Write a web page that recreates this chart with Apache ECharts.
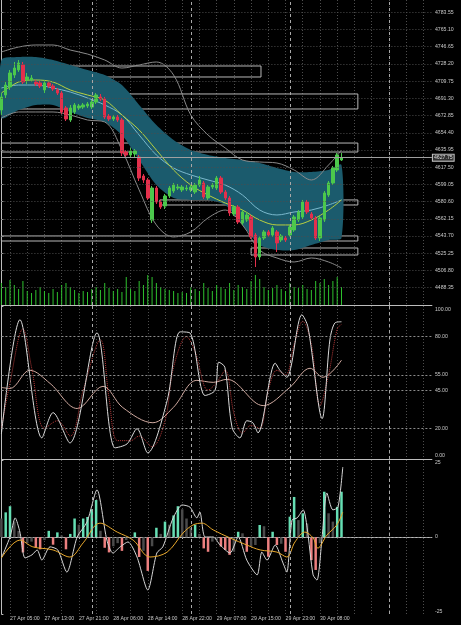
<!DOCTYPE html>
<html><head><meta charset="utf-8">
<script src="https://cdn.jsdelivr.net/npm/echarts@6/dist/echarts.min.js"></script>
<style>html,body{margin:0;padding:0;background:#000;}#c{width:461px;height:625px;}</style>
</head><body><div id="c"></div>
<script>
// ---------- data ----------
const priceTicks = [4783.55,4765.10,4746.65,4728.20,4709.75,4691.30,4672.85,4654.40,4635.95,4617.50,4599.05,4580.60,4562.15,4543.70,4525.25,4506.80,4488.35];
const stochTicks = [100,80,55,45,20,0];
const stochLevels = [80,55,45,20];
const macdTicks = [25,0,-25];
const timeLabels = ['27 Apr 05:00','27 Apr 13:00','27 Apr 21:00','28 Apr 06:00','28 Apr 14:00','28 Apr 22:00','29 Apr 07:00','29 Apr 15:00','29 Apr 23:00','30 Apr 08:00'];
const timeTickBars = [2,10,18,26,34,42,50,58,66,74];
const daySeparators = [21,44,67,90];
const lastPrice = 4627.75;
// [open, close, low, high]
const candles = [
[4678.8,4692.8,4673.5,4697.0],[4694.9,4705.6,4691.7,4708.8],[4703.5,4718.5,4700.3,4721.7],[4716.3,4723.8,4713.1,4730.3],
[4721.7,4729.2,4719.6,4732.4],[4727.1,4708.8,4706.7,4730.3],[4711.0,4714.2,4706.7,4718.5],[4711.0,4713.1,4708.8,4716.3],
[4708.8,4706.7,4704.5,4711.0],[4707.8,4704.5,4702.4,4709.9],[4700.3,4707.8,4697.0,4711.0],[4707.8,4704.5,4702.4,4708.8],
[4704.5,4701.3,4699.2,4706.7],[4700.3,4697.0,4694.9,4702.4],[4697.0,4676.7,4674.5,4699.2],[4681.0,4669.2,4667.0,4683.1],
[4668.1,4681.0,4666.0,4684.2],[4676.7,4684.2,4674.5,4686.3],[4681.0,4683.1,4678.8,4685.3],[4682.0,4684.2,4679.9,4686.3],
[4683.1,4685.3,4681.0,4687.4],[4682.0,4687.4,4679.9,4689.5],[4687.4,4694.9,4685.3,4697.0],[4692.8,4690.6,4688.5,4696.0],
[4690.6,4671.3,4669.2,4692.8],[4672.4,4669.2,4667.0,4674.5],[4669.2,4671.3,4667.0,4673.5],[4671.3,4668.1,4666.0,4673.5],
[4668.1,4632.7,4629.5,4670.3],[4633.8,4630.6,4627.4,4635.9],[4630.6,4634.9,4627.4,4638.1],[4631.7,4634.9,4628.4,4637.0],
[4628.4,4605.9,4602.7,4630.6],[4608.1,4603.8,4600.6,4610.2],[4603.8,4584.5,4582.4,4605.9],[4560.9,4595.2,4557.7,4597.4],
[4595.2,4580.2,4578.1,4597.4],[4580.2,4574.8,4572.7,4582.4],[4575.9,4586.6,4572.7,4588.8],[4586.6,4595.2,4584.5,4597.4],
[4592.0,4598.4,4589.9,4600.6],[4595.2,4596.3,4593.1,4599.5],[4593.1,4596.3,4590.9,4598.4],[4594.1,4595.2,4592.0,4598.4],
[4593.1,4596.3,4590.9,4598.4],[4590.9,4598.4,4588.8,4600.6],[4598.4,4603.8,4596.3,4608.1],[4600.6,4585.6,4583.4,4602.7],
[4584.5,4596.3,4582.4,4598.4],[4596.3,4598.4,4594.1,4600.6],[4595.2,4605.9,4593.1,4608.1],[4605.9,4590.9,4588.8,4608.1],
[4590.9,4584.5,4582.4,4593.1],[4584.5,4568.4,4565.2,4586.6],[4567.3,4574.8,4565.2,4577.0],[4574.8,4558.8,4556.6,4577.0],
[4557.7,4569.5,4555.6,4571.6],[4560.9,4566.3,4558.8,4569.5],[4564.1,4542.7,4540.6,4566.3],[4544.8,4521.3,4510.5,4547.0],
[4521.3,4541.6,4518.0,4543.8],[4541.6,4548.1,4539.5,4550.2],[4548.1,4544.8,4542.7,4550.2],[4544.8,4552.3,4542.7,4554.5],
[4548.1,4536.3,4526.6,4550.2],[4539.5,4543.8,4537.3,4545.9],[4541.6,4539.5,4537.3,4543.8],[4544.8,4553.4,4542.7,4555.6],
[4550.2,4564.1,4548.1,4566.3],[4560.9,4569.5,4558.8,4571.6],[4564.1,4580.2,4562.0,4582.4],[4580.2,4569.5,4567.3,4582.4],
[4567.3,4563.1,4560.9,4569.5],[4563.1,4541.6,4539.5,4565.2],[4541.6,4563.1,4538.4,4565.2],[4560.9,4589.9,4558.8,4592.0],
[4587.7,4600.6,4585.6,4602.7],[4600.6,4616.7,4598.4,4618.8],[4614.5,4630.6,4612.4,4632.7],[4625.2,4627.75,4624.2,4632.7]
];
const volumes = [2200,1800,2500,2000,1600,2400,1400,1200,1500,1800,1400,1200,1600,1300,2000,2200,1800,1500,1200,1400,
1300,1600,1800,1500,2200,1700,1400,1600,1300,2800,1600,1400,2400,2000,3000,2800,2200,1800,1600,1500,
1400,1200,1300,1200,1800,1600,1400,2200,1700,1400,2000,1800,1600,2200,1500,2000,1800,1600,2400,3000,
2600,1800,1500,1700,2000,1600,1400,2200,1800,1700,2000,1600,1500,2400,2200,2600,2000,2400,2800,1800];
// [bar, price]
const bandUpper = [[0,4732.4],[4,4735.6],[8,4735.6],[12,4732.4],[16,4727.1],[20,4721.7],[24,4716.3],[28,4705.6],[32,4684.2],[36,4662.7],[40,4646.6],[44,4635.9],[48,4630.6],[52,4627.4],[56,4625.2],[60,4622.0],[64,4616.7],[68,4612.4],[72,4612.4],[76,4614.5],[79,4619.9]];
const bandLower = [[0,4670.3],[4,4678.8],[8,4684.2],[12,4684.2],[16,4676.7],[20,4670.3],[24,4666.0],[28,4652.0],[32,4625.2],[36,4598.4],[40,4584.5],[44,4582.4],[48,4582.4],[52,4577.0],[56,4555.6],[60,4534.1],[64,4528.7],[68,4528.7],[72,4534.1],[76,4539.5],[79,4541.6]];
const maYellow = [[0,4697.0],[4,4708.8],[8,4711.0],[12,4708.8],[16,4700.3],[20,4694.9],[24,4689.5],[28,4673.5],[32,4657.4],[36,4635.9],[40,4614.5],[44,4598.4],[48,4587.7],[52,4579.1],[56,4571.6],[60,4560.9],[64,4555.6],[68,4555.6],[72,4560.9],[76,4571.6],[79,4582.4]];
const maBlue = [[0,4702.4],[4,4705.6],[8,4705.6],[12,4702.4],[16,4698.1],[20,4691.7],[24,4684.2],[28,4673.5],[32,4652.0],[36,4630.6],[40,4616.7],[44,4609.2],[48,4603.8],[52,4598.4],[56,4587.7],[60,4571.6],[64,4566.3],[68,4569.5],[72,4571.6],[76,4577.0],[79,4582.4]];
const envUpper = [[0,4741.0],[4,4746.3],[8,4748.5],[12,4748.5],[16,4743.1],[20,4738.8],[24,4732.4],[28,4723.8],[32,4727.1],[36,4730.3],[40,4716.3],[44,4673.5],[48,4652.0],[52,4638.1],[56,4625.2],[60,4623.1],[64,4622.0],[68,4614.5],[72,4603.8],[76,4619.9],[79,4635.9]];
const envLower = [[0,4670.3],[4,4676.7],[8,4676.7],[12,4676.7],[16,4673.5],[20,4668.1],[24,4666.0],[28,4635.9],[32,4593.1],[36,4555.6],[40,4542.7],[44,4548.1],[48,4563.1],[52,4571.6],[56,4555.6],[60,4528.7],[64,4520.2],[68,4515.9],[72,4520.2],[76,4515.9],[79,4509.5]];
// [startBar, endBar, topPrice, bottomPrice]
const zones = [[-0.4,60.3,4726.0,4714.2],[-0.4,82.8,4696.0,4679.9],[-0.4,82.8,4643.4,4633.8],[36.8,82.8,4582.4,4577.0],[-0.4,82.8,4543.8,4538.4],[58,82.8,4530.9,4523.4]];
const stochMain = [[0,16.5],[4.3,91],[9.4,13.8],[12,30.3],[15.9,10.5],[22.2,82.4],[26.4,7.3],[29.2,9.9],[31.5,19.8],[34,4],[38.5,38.2],[41.5,83.1],[43.8,82.4],[47.3,41.5],[49.6,44.8],[50.5,63.3],[51.9,60],[53.6,20.4],[55.4,13.8],[57,25],[58.4,23.7],[59.6,17.1],[63.6,62.6],[64.7,58],[66.3,53.4],[69.8,94.3],[71.2,86.4],[74.5,26.4],[76.3,77.8],[77.5,89],[79,89.7]];
const stochSignal = [[0,20],[2,50],[5,85],[7,60],[10,20],[13,25],[16,15],[19,45],[23,78],[25,40],[27,12],[30,12],[32,15],[35,8],[38,25],[40,60],[43,80],[45,70],[48,45],[50,50],[52,58],[54,30],[56,17],[58,22],[60,20],[62,45],[64,58],[66,55],[68,75],[70,90],[72,75],[74,35],[76,55],[78,85],[79,88]];
const stochSlow = [[0,46.8],[2,46.1],[6.6,58],[11.3,49.4],[17.6,33],[23.6,47.5],[28.2,33.6],[35.2,23.7],[39.9,33.6],[45.4,51.4],[49.2,50.1],[52.4,52.1],[60.8,34.9],[67,46.8],[71.7,59.3],[74.7,53.4],[79,64.6]];
const macdHist = [6,8,10,5,2,-5,-2,-1.5,-3.5,-4,-1,2,-2.5,1.5,0.5,-4,1,6,4,6,6.5,9,12,2,-3.5,-5,-3,-2,-4.5,-1,-0.5,1.5,-6.5,-4.5,-11,-3,3,1,5,4,7,10,9,6,3,4,1,-3.7,-4.8,-1.5,-1,-3.1,-4.2,-5.8,-4.8,1.7,1.2,-4.8,-3.1,-2.6,3.9,3.5,-6.4,1.7,-2.6,-2.2,-4.8,6.6,13,5.5,7.7,4.4,-7.5,-10.7,-2,14.7,7.7,5,9.8,14.7];
const macdLine = [[0,-6.8],[2,0],[3.2,6.2],[4.3,1.6],[5.5,-6.8],[7.1,-5.8],[8.3,-4.2],[9.4,-7.5],[11.3,-3.2],[13.1,-4.2],[15.2,-11.4],[17.6,0],[19.9,4.9],[22.2,15.3],[24.5,-1],[25.9,-5.2],[27.6,-3.2],[29.4,-1.6],[31.5,-6.5],[34,-17.2],[36.1,-5.2],[37.5,-3.2],[39.9,6.2],[42,10.4],[43.8,9.7],[45.4,6.2],[46.1,8.1],[47.3,0],[49.2,0],[50.8,-2.6],[53.1,-5.2],[55,0],[57,-7.5],[59.4,-12.3],[60.5,-4.9],[61.7,-7.5],[63.6,-2.6],[65.4,-8.4],[66.3,-11.4],[67.5,5.5],[68.7,6.2],[70.1,8.8],[71,3.2],[72.4,-12.3],[73.3,-14],[74.5,0],[75.6,14.3],[77,8.8],[78.2,9.7],[79.3,22.7]];
const macdSignal = [[0,-6.8],[4.3,-1],[7.3,-3.2],[12,-4.2],[15.9,-6.5],[19,-1.9],[22.9,4.5],[26.9,1.6],[30.6,-1],[34.5,-6.5],[38.5,-4.9],[42.2,1.3],[44.5,3.9],[46.6,4.5],[49.2,2.3],[53.1,-0.3],[57,-2.6],[60.1,-4.2],[64,-4.9],[66.3,-6.5],[68.2,-1.6],[70.5,1.6],[72.4,-0.3],[73.5,-3.6],[75.6,0.6],[77.9,3.9],[79.3,8.1]];

// ---------- chart ----------
const N = 101;
const cats = Array.from({length: N}, (_, i) => String(i));
const tickAt = {};
timeTickBars.forEach((b, i) => { tickAt[b] = timeLabels[i]; });
const FONT = 'Liberation Sans';
const TXT = '#c8c8c8';
const AX = '#bdbdbd';
const gridDot = {color: '#4d4d4d', type: [1, 2], width: 1};
const L = 1.4, R = 461 - 431.9;
const grids = [
  {left: L, right: R, top: 0, height: 305},
  {left: L, right: R, top: 306, height: 153},
  {left: L, right: R, top: 460, height: 154}
];
function catAxis(g, labels) {
  return {type: 'category', gridIndex: g, data: cats, boundaryGap: false,
    axisLine: {show: true, lineStyle: {color: AX}},
    axisTick: {show: labels, interval: i => tickAt[i] !== undefined, length: 2, lineStyle: {color: AX}},
    axisLabel: {show: labels, interval: i => tickAt[i] !== undefined, formatter: (v, i) => tickAt[i] || '',
      align: 'left', color: TXT, fontSize: 5.2, margin: 2, fontFamily: FONT},
    splitLine: {show: true, interval: i => i % 4 === 2, lineStyle: gridDot}};
}
function valX(g) { return {type: 'value', gridIndex: g, min: 0, max: 100, show: false}; }
const xAxis = [catAxis(0, false), valX(0), catAxis(1, false), valX(1), catAxis(2, true), valX(2)];
const richShift = {
  dn: {padding: [7, 0, 0, 0], fontSize: 5.2, color: TXT, fontFamily: FONT},
  up: {padding: [0, 0, 7, 0], fontSize: 5.2, color: TXT, fontFamily: FONT},
  dn2: {padding: [6, 0, 0, 0], fontSize: 5.2, color: TXT, fontFamily: FONT},
  up2: {padding: [0, 0, 4, 0], fontSize: 5.2, color: TXT, fontFamily: FONT}
};
const yLbl = {color: TXT, fontSize: 5.2, margin: 3, fontFamily: FONT, rich: richShift};
const yAxis = [
  {type: 'value', gridIndex: 0, position: 'right', min: 4469.80, max: 4796.73,
    axisLine: {show: true, lineStyle: {color: AX}},
    axisTick: {show: true, customValues: priceTicks, length: 2, lineStyle: {color: AX}},
    axisLabel: Object.assign({customValues: priceTicks, formatter: v => v.toFixed(2)}, yLbl),
    splitLine: {show: false}},
  {type: 'value', gridIndex: 0, min: 0, max: 30500, show: false},
  {type: 'value', gridIndex: 1, position: 'right', min: 0, max: 100,
    axisLine: {show: true, lineStyle: {color: AX}},
    axisTick: {show: true, customValues: stochTicks, length: 2, lineStyle: {color: AX}},
    axisLabel: Object.assign({customValues: stochTicks,
      formatter: v => v === 100 ? '{dn|' + v.toFixed(2) + '}' : v === 0 ? '{up|' + v.toFixed(2) + '}' : v.toFixed(2)}, yLbl),
    splitLine: {show: false}},
  {type: 'value', gridIndex: 2, position: 'right', min: -25, max: 25,
    axisLine: {show: true, lineStyle: {color: AX}},
    axisTick: {show: true, customValues: macdTicks, length: 2, lineStyle: {color: AX}},
    axisLabel: Object.assign({customValues: macdTicks,
      formatter: v => v === 25 ? '{dn2|' + v + '}' : v === -25 ? '{up2|' + v + '}' : String(v)}, yLbl),
    splitLine: {show: false}}
];
function helper(xi, yi, z, ml, ma) {
  const s = {type: 'line', xAxisIndex: xi, yAxisIndex: yi, data: [], silent: true, z: z, animation: false};
  if (ml) s.markLine = Object.assign({silent: true, symbol: 'none', animation: false, label: {show: false}}, ml);
  if (ma) s.markArea = ma;
  return s;
}
function line(xi, yi, data, color, z, extra) {
  return Object.assign({type: 'line', xAxisIndex: xi, yAxisIndex: yi, data: data, showSymbol: false, smooth: 0.35,
    silent: true, animation: false, z: z, lineStyle: {color: color, width: 1}}, extra || {});
}
const sepStyle = {color: '#a8a8a8', type: [3, 3], width: 1};
const series = [
  helper(1, 0, 0, {lineStyle: gridDot, data: priceTicks.map(p => ({yAxis: p}))}),
  helper(1, 0, 0, {lineStyle: sepStyle, data: daySeparators.map(d => ({xAxis: d}))}),
  {type: 'custom', xAxisIndex: 1, yAxisIndex: 0, z: 1, silent: true, animation: false, data: [0],
    renderItem: (params, api) => {
      const pts = bandUpper.map(p => api.coord(p)).concat(bandLower.slice().reverse().map(p => api.coord(p)));
      return {type: 'polygon', shape: {points: pts, smooth: 0.25}, style: {fill: '#1b5b6d'}};
    }},
  line(1, 0, envUpper, '#8a8a8a', 2),
  line(1, 0, envLower, '#8a8a8a', 2),
  line(1, 0, maBlue, '#7ab8cc', 2),
  line(1, 0, maYellow, '#b8d040', 2),
  {type: 'bar', xAxisIndex: 0, yAxisIndex: 1, data: volumes, barWidth: 1, silent: true, animation: false, z: 2,
    itemStyle: {color: '#2ec22e'}},
  {type: 'candlestick', xAxisIndex: 0, yAxisIndex: 0, data: candles, barWidth: 3, silent: true, animation: false, z: 3,
    itemStyle: {color: '#4cc84c', borderColor: '#4cc84c', color0: '#e3304c', borderColor0: '#e3304c', borderWidth: 1},
    markLine: {silent: true, symbol: 'none', animation: false, lineStyle: {color: '#a0a0a0', type: 'solid', width: 1},
      label: {show: true, position: 'end', distance: 1, formatter: () => lastPrice.toFixed(2), color: '#dcdcdc',
        fontSize: 5.2, fontFamily: FONT, backgroundColor: '#303030', borderColor: '#c8c8c8', borderWidth: 1, padding: [1, 1, 0, 1]},
      data: [{yAxis: lastPrice}]}},
  helper(1, 0, 4, null, {silent: true, itemStyle: {color: 'rgba(0,0,0,0)', borderColor: '#b8b8b8', borderWidth: 1},
    data: zones.map(z => [{xAxis: z[0], yAxis: z[2]}, {xAxis: z[1], yAxis: z[3]}])}),
  helper(3, 2, 0, {lineStyle: {color: '#8c8c8c', type: [2, 2], width: 1}, data: stochLevels.map(v => ({yAxis: v}))}),
  helper(3, 2, 0, {lineStyle: sepStyle, data: daySeparators.map(d => ({xAxis: d}))}),
  line(3, 2, stochSlow, '#d0aaa0', 2),
  line(3, 2, stochSignal, '#b83a3a', 2, {lineStyle: {color: '#b83a3a', width: 1, type: [1, 1]}}),
  line(3, 2, stochMain, '#dcdcdc', 3, {smooth: 0.3}),
  helper(5, 3, 0, {lineStyle: {color: '#8c8c8c', type: [2, 2], width: 1}, data: [{yAxis: 0}]}),
  helper(5, 3, 0, {lineStyle: sepStyle, data: daySeparators.map(d => ({xAxis: d}))}),
  {type: 'bar', xAxisIndex: 4, yAxisIndex: 3, barWidth: 2.5, silent: true, animation: false, z: 2,
    data: macdHist.map((v, i) => {
      const prev = i > 0 ? macdHist[i - 1] : v;
      const c = (v > 0 && v > prev) ? '#66dfb4' : (v < 0 && v < prev) ? '#ec7f7f' : '#4a4a4a';
      return {value: v, itemStyle: {color: c}};
    })},
  line(5, 3, macdLine, '#d6d6d6', 3, {smooth: 0.25}),
  line(5, 3, macdSignal, '#e8a82c', 3)
];
const chart = echarts.init(document.getElementById('c'), null, {renderer: 'canvas'});
chart.setOption({backgroundColor: '#000', animation: false, grid: grids, xAxis: xAxis, yAxis: yAxis, series: series});
</script>
</body></html>
